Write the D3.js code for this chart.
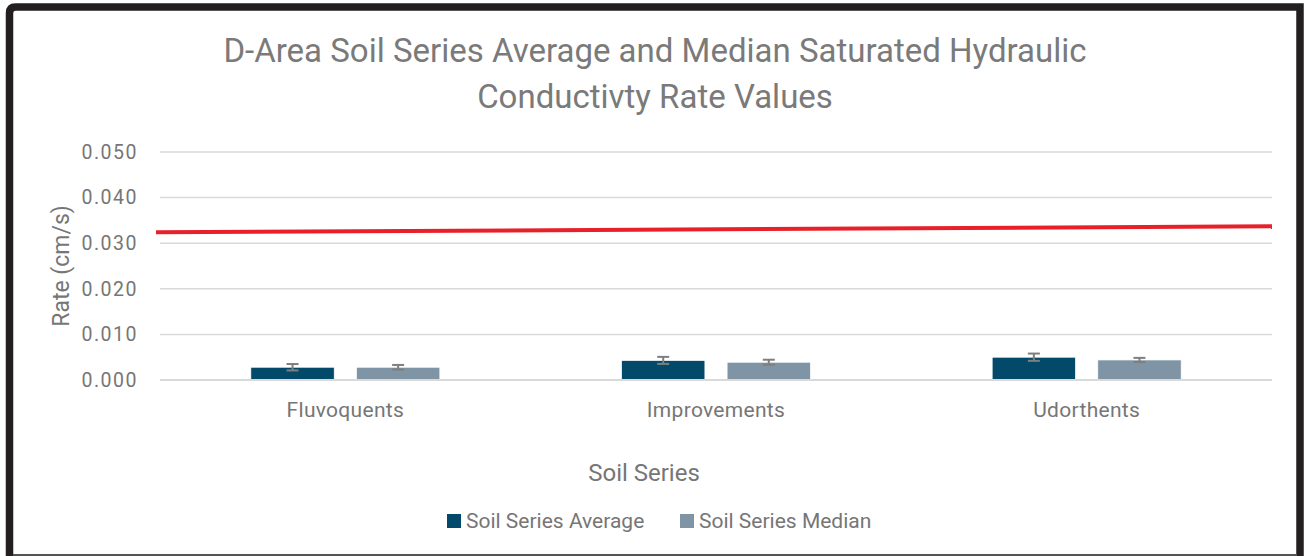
<!DOCTYPE html>
<html>
<head>
<meta charset="utf-8">
<script src="https://cdn.jsdelivr.net/npm/d3@7"></script>
<style>
  body { margin: 0; background: #fff; }
  svg text { font-family: Roboto, "Liberation Sans", sans-serif; }
</style>
</head>
<body>
<div id="chart"></div>
<script>
// data
let categories = ["Fluvoquents", "Improvements", "Udorthents"];
let seriesNames = ["Soil Series Average", "Soil Series Median"];
let averages = [0.0028, 0.0043, 0.0050];
let medians = [0.0028, 0.0039, 0.0044];
let avgErrors = [0.0007, 0.00077, 0.0008];
let medErrors = [0.0005, 0.00055, 0.00045];
let yTicks = [0, 0.01, 0.02, 0.03, 0.04, 0.05];
// red reference line, value at left and right edge of the plot
let refLine = [0.0324, 0.0337];

let colors = ["#034a6a", "#7f95a5"];
let textColor = "#767676";

let W = 1304, H = 556;
let margin = { top: 152, right: 32, bottom: 176, left: 160 },
    width = W - margin.left - margin.right,
    height = H - margin.top - margin.bottom;

let svg = d3.select("#chart").append("svg")
    .attr("width", W)
    .attr("height", H);

// frame
svg.append("path")
    .attr("d", "M9.5,560 V13 Q9.5,7 15.5,7 H1300 V560")
    .attr("fill", "none")
    .attr("stroke", "#231f20")
    .attr("stroke-width", 7.5);
svg.append("line")
    .attr("x1", 13).attr("x2", 1297)
    .attr("y1", 555).attr("y2", 555)
    .attr("stroke", "#555")
    .attr("stroke-width", 2);

// title
let title = svg.append("text")
    .attr("text-anchor", "middle")
    .attr("fill", "#7a7a7a")
    .style("font-size", "33px");
title.append("tspan").attr("x", 655).attr("y", 62)
    .text("D-Area Soil Series Average and Median Saturated Hydraulic");
title.append("tspan").attr("x", 655).attr("y", 108)
    .text("Conductivty Rate Values");

let g = svg.append("g")
    .attr("transform", "translate(" + margin.left + "," + margin.top + ")");

let y = d3.scaleLinear().domain([0, 0.05]).range([height, 0]);

let x0 = d3.scaleBand()
    .domain(categories)
    .range([0, width])
    .paddingInner(0.49)
    .paddingOuter(0.245);

let x1 = d3.scaleBand()
    .domain(seriesNames)
    .range([0, x0.bandwidth()])
    .paddingInner(0.21);

// gridlines
g.append("g")
    .selectAll("line")
    .data(yTicks.slice(1))
    .enter().append("line")
    .attr("x1", 0).attr("x2", width)
    .attr("y1", d => y(d)).attr("y2", d => y(d))
    .attr("stroke", "#d9d9d9")
    .attr("stroke-width", 1.5);

// y axis labels
let yAxis = g.append("g")
    .call(d3.axisLeft(y).tickValues(yTicks).tickFormat(d3.format(".3f")).tickSize(0).tickPadding(22));
yAxis.select(".domain").remove();
yAxis.selectAll("text")
    .attr("fill", textColor)
    .style("font-size", "19.5px")
    .style("letter-spacing", "1.5px");

// bars
let rows = categories.map((c, i) => ({
    cat: c,
    vals: [
        { s: seriesNames[0], v: averages[i], e: avgErrors[i] },
        { s: seriesNames[1], v: medians[i], e: medErrors[i] }
    ]
}));

let groups = g.selectAll(".grp")
    .data(rows)
    .enter().append("g")
    .attr("class", "grp")
    .attr("transform", d => "translate(" + x0(d.cat) + ",0)");

groups.selectAll("rect")
    .data(d => d.vals)
    .enter().append("rect")
    .attr("x", d => x1(d.s))
    .attr("width", x1.bandwidth())
    .attr("y", d => y(d.v))
    .attr("height", d => height - y(d.v))
    .attr("fill", (d, i) => colors[i])
    .attr("stroke", "#fff")
    .attr("stroke-width", 0.75);

// error bars
let eb = groups.selectAll(".err")
    .data(d => d.vals)
    .enter().append("g")
    .attr("class", "err")
    .attr("stroke", "#7f7f7f")
    .attr("stroke-width", 2);
eb.append("line")
    .attr("x1", d => x1(d.s) + x1.bandwidth() / 2)
    .attr("x2", d => x1(d.s) + x1.bandwidth() / 2)
    .attr("y1", d => y(d.v + d.e))
    .attr("y2", d => y(d.v - d.e));
eb.append("line")
    .attr("x1", d => x1(d.s) + x1.bandwidth() / 2 - 6)
    .attr("x2", d => x1(d.s) + x1.bandwidth() / 2 + 6)
    .attr("y1", d => y(d.v + d.e))
    .attr("y2", d => y(d.v + d.e));
eb.append("line")
    .attr("x1", d => x1(d.s) + x1.bandwidth() / 2 - 6)
    .attr("x2", d => x1(d.s) + x1.bandwidth() / 2 + 6)
    .attr("y1", d => y(d.v - d.e))
    .attr("y2", d => y(d.v - d.e));

// baseline
g.append("line")
    .attr("x1", 0).attr("x2", width)
    .attr("y1", y(0)).attr("y2", y(0))
    .attr("stroke", "#d9d9d9")
    .attr("stroke-width", 2);

// x axis labels
let xAxis = g.append("g")
    .attr("transform", "translate(0," + height + ")")
    .call(d3.axisBottom(x0).tickSize(0).tickPadding(22));
xAxis.select(".domain").remove();
xAxis.selectAll("text")
    .attr("fill", textColor)
    .style("font-size", "21px")
    .style("letter-spacing", "0.3px");

// red reference line
let xl = d3.scaleLinear().domain([0, 1]).range([-4, width]);
g.append("path")
    .datum(refLine)
    .attr("d", d3.line().x((d, i) => xl(i)).y(d => y(d)))
    .attr("stroke", "#e8202a")
    .attr("stroke-width", 4)
    .attr("fill", "none");

// axis titles
svg.append("text")
    .attr("transform", "translate(69,266) rotate(-90)")
    .attr("text-anchor", "middle")
    .attr("fill", textColor)
    .style("font-size", "23px")
    .text("Rate (cm/s)");

svg.append("text")
    .attr("x", 644).attr("y", 481)
    .attr("text-anchor", "middle")
    .attr("fill", textColor)
    .style("font-size", "24px")
    .text("Soil Series");

// legend
let legend = svg.append("g");
let legX = [447, 680];
seriesNames.forEach((s, i) => {
    legend.append("rect")
        .attr("x", legX[i]).attr("y", 514)
        .attr("width", 14).attr("height", 14)
        .attr("fill", colors[i]);
    legend.append("text")
        .attr("x", legX[i] + 19).attr("y", 528)
        .attr("fill", textColor)
        .style("font-size", "21px")
        .text(s);
});
</script>
</body>
</html>
